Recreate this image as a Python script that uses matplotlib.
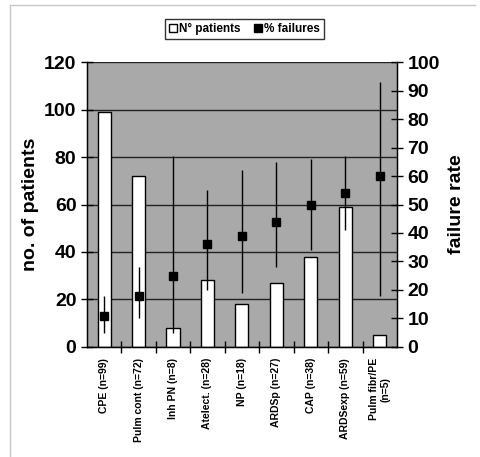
import matplotlib
matplotlib.use("Agg")
import matplotlib.pyplot as plt
import numpy as np
from matplotlib.lines import Line2D

plt.rcParams['font.family'] = ['Liberation Sans', 'DejaVu Sans']
plt.rcParams['font.weight'] = 'bold'

# Data
categories = ["CPE (n=99)", "Pulm cont (n=72)", "Inh PN (n=8)", "Atelect. (n=28)",
              "NP (n=18)", "ARDSp (n=27)", "CAP (n=38)", "ARDSexp (n=59)",
              "Pulm fibr/PE\n(n=5)"]
n_patients = [99, 72, 8, 28, 18, 27, 38, 59, 5]
fail_rate = [11, 18, 25, 36, 39, 44, 50, 54, 60]
fail_low = [5, 10, 5, 20, 19, 28, 34, 41, 18]
fail_high = [18, 28, 67, 55, 62, 65, 66, 67, 93]

fig = plt.figure(figsize=(4.8, 4.57), dpi=100)
ax1 = fig.add_axes([0.181, 0.241, 0.646, 0.623])
ax1.set_facecolor('#a9a9a9')

x = np.arange(len(categories))
ax1.bar(x, n_patients, width=0.38, color='white', edgecolor='black', linewidth=1, zorder=2)
ax1.set_ylim(0, 120)
ax1.set_xlim(-0.5, len(categories) - 0.5)
ax1.set_yticks(range(0, 121, 20))
ax1.yaxis.grid(True, color='#222222', linewidth=1)
ax1.set_axisbelow(True)
ax1.tick_params(axis='y', direction='inout', length=8, labelsize=14, width=1)
ax1.set_ylabel("no. of patients", fontsize=14, fontweight='bold', labelpad=4)

ax1.set_xticks(x)
ax1.set_xticklabels(categories, rotation=90, fontsize=7.5, fontweight='bold', va='top', ha='center',
                    multialignment='center')
ax1.tick_params(axis='x', length=0, pad=8)
ax1.set_xticks(x[:-1] + 0.5, minor=True)
ax1.tick_params(axis='x', which='minor', direction='inout', length=8, width=1)
for s in ax1.spines.values():
    s.set_linewidth(1)
ax1.spines['top'].set_visible(False)

ax2 = ax1.twinx()
ax2.set_ylim(0, 100)
ax2.set_yticks(range(0, 101, 10))
yerr = [np.array(fail_rate) - np.array(fail_low), np.array(fail_high) - np.array(fail_rate)]
ax2.errorbar(x, fail_rate, yerr=yerr, fmt='s', color='black', markersize=6,
             elinewidth=1, capsize=0)
ax2.tick_params(axis='y', direction='inout', length=8, labelsize=14, width=1)
ax2.set_ylabel("failure rate", fontsize=14, fontweight='bold', labelpad=6)
ax2.spines['top'].set_visible(False)
for lab in ax1.get_yticklabels() + ax2.get_yticklabels():
    lab.set_fontweight('bold')

handles = [Line2D([], [], marker='s', color='none', markerfacecolor='white',
                  markeredgecolor='black', markersize=6, linestyle='none'),
           Line2D([], [], marker='s', color='none', markerfacecolor='black',
                  markeredgecolor='black', markersize=6, linestyle='none')]
fig.legend(handles, ["N° patients", "% failures"], loc='center', bbox_to_anchor=(0.51, 0.937),
           ncol=2, frameon=True, fancybox=False, edgecolor='black',
           handlelength=0.6, handletextpad=0.2, columnspacing=1.2, borderpad=0.35,
           borderaxespad=0, prop={'weight': 'bold', 'size': 8.5})

# light outer frame (top and left edges only)
fig.add_artist(Line2D([10/480, 10/480], [0, 1 - 5/457], transform=fig.transFigure, color='#c8c8c8', lw=1))
fig.add_artist(Line2D([10/480, 475/480], [1 - 5/457, 1 - 5/457], transform=fig.transFigure, color='#c8c8c8', lw=1))

fig.savefig("out.png", dpi=100)
